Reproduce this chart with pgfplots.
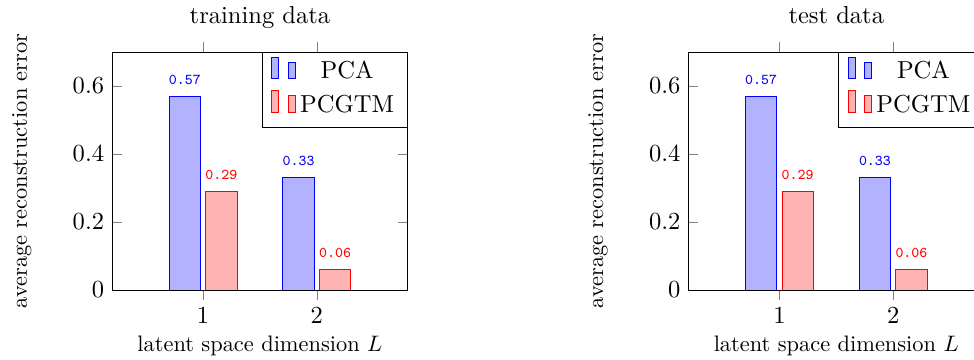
\documentclass[border=0pt]{standalone}
\usepackage{pgfplots}
\pgfplotsset{compat=1.18}
\pgfplotsset{
  mybarlegend/.style={
    /pgfplots/legend image code/.code={%
      \draw[##1] (0pt,-3.1pt) rectangle (3.2pt,6.4pt);
      \draw[##1] (7.3pt,-3.1pt) rectangle (10.5pt,4.2pt);
      \path (0pt,-8pt) (0pt,6.4pt);
    }
  },
  myaxis/.style={
    scale only axis,
    width=132.1pt, height=106.25pt,
    ybar=2.3pt, bar width=14pt,
    xmin=0.2, xmax=2.8, ymin=0, ymax=0.7,
    xtick={1,2}, ytick={0,0.2,0.4,0.6},
    xtick align=outside,
    font=\fontsize{10.95}{13.6}\selectfont,
    tick style={gray},
    axis line style={black},
    label style={font=\fontsize{10}{12}\selectfont},
    xlabel={latent space dimension $L$},
    ylabel={average reconstruction error},
    xlabel style={at={(axis description cs:0.5,-0.2588)}, anchor=base},
    ylabel style={at={(axis description cs:-0.2877,0.5)}, anchor=base},
    title style={at={(axis description cs:0.5,1.0616)}, anchor=base},
    legend style={at={(1,1)}, anchor=north east, inner xsep=4pt, font=\fontsize{10.95}{13.6}\selectfont},
    legend cell align=center,
    nodes near coords={\pgfmathprintnumber[fixed,precision=2,assume math mode=true]{\pgfplotspointmeta}},
    every node near coord/.append style={font=\fontsize{6.7}{8}\selectfont\ttfamily, yshift=1.8pt},
  },
}
\begin{document}
\begin{tikzpicture}
\path[use as bounding box] (-50pt,-31.25pt) rectangle (384.82pt,129.46pt);
\begin{axis}[myaxis, title={training data}]
\addplot[draw=blue, fill=blue!30, mybarlegend, every node near coord/.append style={text=blue}] coordinates {(1,0.57) (2,0.33)};
\addplot[draw=red, fill=red!30, mybarlegend, every node near coord/.append style={text=red}] coordinates {(1,0.29) (2,0.06)};
\legend{PCA, PCGTM}
\end{axis}
\begin{axis}[myaxis, at={(257.3pt,0pt)}, title={test data}]
\addplot[draw=blue, fill=blue!30, mybarlegend, every node near coord/.append style={text=blue}] coordinates {(1,0.57) (2,0.33)};
\addplot[draw=red, fill=red!30, mybarlegend, every node near coord/.append style={text=red}] coordinates {(1,0.29) (2,0.06)};
\legend{PCA, PCGTM}
\end{axis}
\end{tikzpicture}
\end{document}
